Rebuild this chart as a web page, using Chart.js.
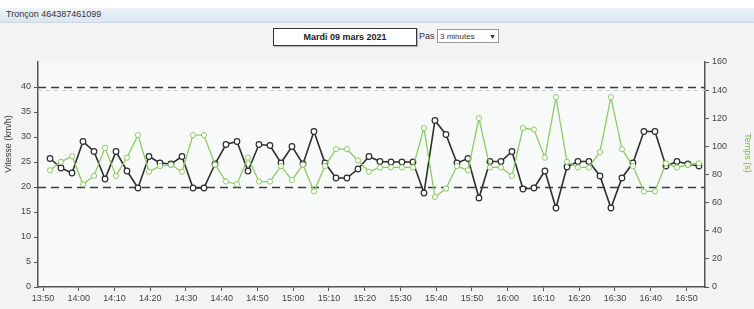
<!DOCTYPE html>
<html><head><meta charset="utf-8">
<script src="https://cdn.jsdelivr.net/npm/chart.js@4.4.0/dist/chart.umd.min.js"></script>
<style>
html,body{margin:0;padding:0;background:#f3f3f3;width:754px;height:309px;overflow:hidden;font-family:"Liberation Sans",Arial,sans-serif;}
#topw{position:absolute;left:0;top:0;width:754px;height:8px;background:#fff;}
#hdr{position:absolute;left:0;top:8px;width:754px;height:14px;background:linear-gradient(#eef3f8,#d8e5f2);border-bottom:1px solid #cad8e6;}
#hdr span{position:absolute;left:6px;top:1px;font-size:9px;color:#333;}
#date{position:absolute;left:273px;top:28px;width:142px;height:16px;border:1px solid #333;background:#fff;font-size:9px;font-weight:bold;text-align:center;line-height:16px;color:#222;box-shadow:1px 1px 1px #bbb;}
#pas{position:absolute;left:419px;top:31px;font-size:9px;color:#333;}
#sel{position:absolute;left:437px;top:29px;width:62px;height:14px;border:1px solid #999;background:#fff;font-size:8px;line-height:14px;color:#333;padding-left:2px;box-sizing:border-box;}
#sel b{position:absolute;right:2px;top:0;font-size:7px;}
#wrap{position:absolute;left:0;top:50px;width:754px;height:259px;}
.yt{position:absolute;font-size:9px;white-space:nowrap;transform-origin:center center;}
#ytl{left:-24px;top:139px;width:64px;text-align:center;transform:rotate(-90deg);color:#333;}
#ytr{left:726px;top:148px;width:44px;text-align:center;transform:rotate(90deg);color:#7ab648;}
</style></head>
<body>
<div id="topw"></div>
<div id="hdr"><span>Tronçon 464387461099</span></div>
<div id="date">Mardi 09 mars 2021</div>
<div id="pas">Pas :</div>
<div id="sel">3 minutes<b>▼</b></div>
<div id="wrap"><canvas id="c" width="754" height="259"></canvas></div>
<div class="yt" id="ytl">Vitesse (km/h)</div>
<div class="yt" id="ytr">Temps (s)</div>
<script>
const times = ['13:51:58','13:55:02','13:58:07','14:01:11','14:04:16','14:07:21','14:10:25','14:13:30','14:16:34','14:19:39',
 '14:22:44','14:25:48','14:28:53','14:31:58','14:35:02','14:38:07','14:41:11','14:44:16','14:47:21','14:50:25',
 '14:53:30','14:56:35','14:59:39','15:02:44','15:05:48','15:08:53','15:11:58','15:15:02','15:18:07','15:21:11',
 '15:24:16','15:27:21','15:30:25','15:33:30','15:36:35','15:39:39','15:42:44','15:45:48','15:48:53','15:51:58',
 '15:55:02','15:58:07','16:01:12','16:04:16','16:07:21','16:10:25','16:13:30','16:16:35','16:19:39','16:22:44',
 '16:25:49','16:28:53','16:31:58','16:35:02','16:38:07','16:41:12','16:44:16','16:47:21','16:50:25','16:53:30'];
const speed = [25.7,23.8,22.8,29.1,27.1,21.6,27.1,23.2,19.8,26.1,
 24.8,24.6,26.1,19.8,19.8,24.6,28.5,29.1,23.2,28.5,
 28.3,24.8,28.1,24.6,31.1,24.8,21.8,21.8,23.6,26.1,
 25.1,25.0,25.0,25.0,18.8,33.3,30.5,24.8,25.7,17.8,
 25.1,25.1,27.1,19.6,19.8,23.2,15.8,24.0,25.1,25.1,
 22.2,15.8,21.8,24.8,31.1,31.1,24.2,25.1,24.6,24.2];
const travelTime = [83,89,93,73,79,99,79,92,108,82,
 86,87,82,108,108,87,75,73,92,75,
 75,86,76,87,68,86,98,98,90,82,
 85,85,85,85,113,64,70,86,83,120,
 85,85,79,113,112,92,135,89,85,85,
 96,135,98,86,68,68,88,85,87,88];
const xTickLabels = ['13:50','14:00','14:10','14:20','14:30','14:40','14:50','15:00','15:10','15:20',
 '15:30','15:40','15:50','16:00','16:10','16:20','16:30','16:40','16:50'];
const speedTicks = [0,5,10,15,20,25,30,35,40];
const timeTicks = [0,20,40,60,80,100,120,140,160];
const speedThresholds = [20,40];
const timeThresholds = [140];

const toMin = s => { const p = s.split(':').map(Number); return p[0]*60 + p[1] + (p[2]||0)/60; };
const fmt = v => { const h = Math.floor(v/60), m = Math.round(v-h*60); return h+':'+String(m).padStart(2,'0'); };
const xs = times.map(toMin);

const refLines = {
  id:'refLines',
  beforeDraw(chart){
    const {ctx, chartArea:a} = chart;
    ctx.save(); ctx.fillStyle='#f8f9f9';
    ctx.fillRect(a.left,a.top,a.right-a.left,a.bottom-a.top); ctx.restore();
  },
  beforeDatasetsDraw(chart){
    const {ctx, chartArea:a, scales} = chart;
    ctx.save();
    ctx.setLineDash([4,4]); ctx.strokeStyle='#c9c9d6'; ctx.lineWidth=1;
    timeThresholds.forEach(v=>{ const y=Math.round(scales.y1.getPixelForValue(v))+0.5;
      ctx.beginPath(); ctx.moveTo(a.left,y); ctx.lineTo(a.right,y); ctx.stroke(); });
    ctx.setLineDash([8,5]); ctx.strokeStyle='#3a3a48'; ctx.lineWidth=1.3;
    speedThresholds.forEach(v=>{ const y=Math.round(scales.y.getPixelForValue(v))+0.5;
      ctx.beginPath(); ctx.moveTo(a.left,y); ctx.lineTo(a.right,y); ctx.stroke(); });
    ctx.restore();
  }
};

new Chart(document.getElementById('c'), {
  type:'line',
  data:{ datasets:[
    { label:'Temps', yAxisID:'y1', data: xs.map((x,i)=>({x, y:travelTime[i]})),
      borderColor:'#8dcb68', borderWidth:1.3, pointRadius:2.6, pointBorderWidth:1,
      pointBackgroundColor:'#fff', pointBorderColor:'#8dcb68', tension:0 },
    { label:'Vitesse', yAxisID:'y', data: xs.map((x,i)=>({x, y:speed[i]})),
      borderColor:'#2e2e2e', borderWidth:1.6, pointRadius:2.8, pointBorderWidth:1.2,
      pointBackgroundColor:'#fff', pointBorderColor:'#2e2e2e', tension:0 }
  ]},
  options:{
    responsive:false, animation:false, events:[],
    layout:{ padding:{ top:12, left:0, right:0, bottom:0 } },
    plugins:{ legend:{display:false}, tooltip:{enabled:false} },
    scales:{
      x:{ type:'linear', min:828.6, max:1015.2,
        afterBuildTicks: s => { s.ticks = xTickLabels.map(t=>({value:toMin(t)})); },
        afterFit: s => { s.height = 22; },
        ticks:{ autoSkip:false, maxRotation:0, font:{size:9, family:'Liberation Sans'}, color:'#444', padding:2,
          callback: v => fmt(v) },
        grid:{ drawOnChartArea:false, tickLength:4, color:'#555' },
        border:{ color:'#555', width:1.5 }
      },
      y:{ position:'left', min:0, max:45,
        afterBuildTicks: s => { s.ticks = speedTicks.map(v=>({value:v})); },
        afterFit: s => { s.width = 38; },
        ticks:{ font:{size:9, family:'Liberation Sans'}, color:'#444', padding:3 },
        grid:{ drawOnChartArea:false, tickLength:4, color:'#555' },
        border:{ color:'#555', width:1.5 }
      },
      y1:{ position:'right', min:0, max:160,
        afterBuildTicks: s => { s.ticks = timeTicks.map(v=>({value:v})); },
        afterFit: s => { s.width = 49; },
        ticks:{ font:{size:9, family:'Liberation Sans'}, color:'#444', padding:3 },
        grid:{ drawOnChartArea:false, tickLength:4, color:'#555' },
        border:{ color:'#555', width:1.5 }
      }
    }
  },
  plugins:[refLines]
});
</script>
</body></html>
